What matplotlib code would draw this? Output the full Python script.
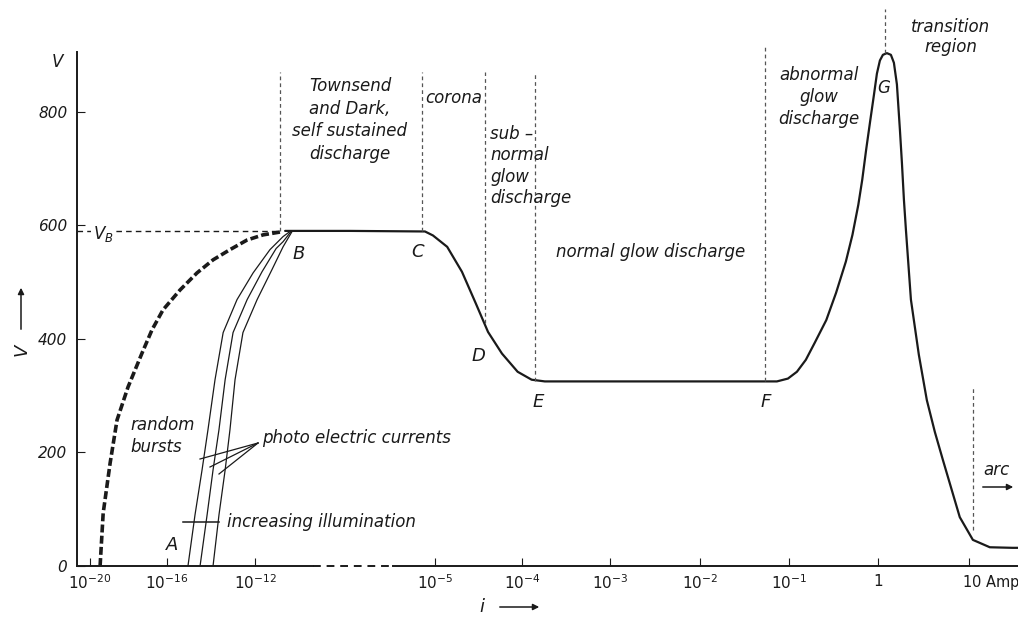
import numpy as np
import matplotlib
matplotlib.use("Agg")
import matplotlib.pyplot as plt
import matplotlib.transforms as mtransforms
import matplotlib.patches as mpatches

plt.rcParams['font.family'] = ['DejaVu Sans']
plt.rcParams['mathtext.default'] = 'it'

# ---------------- data (log10 current in A, voltage in V) ----------------
# main characteristic B-C-D-E-F-G-arc
main_logI = [-10.83, -8.3, -5.39, -5.08, -4.86, -4.69, -4.53, -4.39, -4.23, -4.05,
             -3.89, -3.74, -1.135, -1.011, -0.91, -0.81, -0.71, -0.58, -0.47, -0.36,
             -0.286, -0.22, -0.176, -0.132, -0.088, -0.044, -0.011, 0.022, 0.055, 0.099,
             0.143, 0.176, 0.209, 0.242, 0.264, 0.286, 0.308, 0.363, 0.45, 0.538,
             0.626, 0.714, 0.90, 1.044, 1.23, 1.48, 1.6]
main_V = [590, 590, 589, 582, 562, 518, 462, 412, 374, 342,
          328, 325, 325, 330, 342, 363, 393, 433, 481, 536,
          583, 636, 680, 733, 782, 830, 867, 890, 900, 903,
          900, 886, 848, 768, 710, 645, 592, 469, 372, 292,
          236, 187, 86, 46, 33, 32, 32]

# random bursts (dashed)
burst_logI = [-19.48, -19.32, -18.96, -18.6, -18.03, -17.3, -16.78, -16.21, -15.41,
              -14.64, -13.91, -13.14, -12.36, -11.69, -11.03]
burst_V = [0, 93, 181, 257, 315, 375, 416, 451, 486, 516, 539, 557, 574, 583, 588]

# photo electric currents (three illumination levels)
photo1_logI = [-15.05, -14.73, -14.41, -14.14, -13.82, -13.45, -12.82, -12.09, -11.42, -10.91, -10.64]
photo1_V = [0, 90, 169, 240, 328, 411, 469, 516, 557, 580, 589]
photo2_logI = [-14.5, -14.18, -13.91, -13.64, -13.36, -13.0, -12.36, -11.73, -11.18, -10.91, -10.6]
photo2_V = [0, 90, 169, 240, 328, 411, 469, 518, 559, 571, 589]
photo3_logI = [-13.91, -13.64, -13.36, -13.14, -12.91, -12.55, -11.92, -11.34, -10.91, -10.56]
photo3_V = [0, 90, 169, 240, 328, 411, 469, 522, 562, 589]

# region boundaries (log10 current, V from, V to)
bound_logI = [-11.03, -5.5, -4.43, -3.85, -1.27, 0.08, 1.05]
bound_Vlo = [590, 590, 428, 325, 325, 903, 63]
bound_Vhi = [870, 870, 870, 870, 915, 980, 314]
V_B = 590

xtick_logI = [-20, -16, -12, -5, -4, -3, -2, -1, 0, 1]
xtick_labels = [r'$10^{-20}$', r'$10^{-16}$', r'$10^{-12}$', r'$10^{-5}$', r'$10^{-4}$',
                r'$10^{-3}$', r'$10^{-2}$', r'$10^{-1}$', r'$1$', r'$10$ Amp']
yticks = [0, 200, 400, 600, 800]

# ---------------- non-uniform current scale ----------------
KNOT_LOG = np.array([-22, -20, -16, -12, -5, -4, -3, -2, -1, 0, 1, 2], float)
KNOT_POS = np.array([51.5, 90, 167, 255, 435, 522, 610, 700, 789, 878, 969, 1060], float)

def fwd(I):
    I = np.asarray(I, float)
    return np.interp(np.log10(np.clip(I, 1e-300, None)), KNOT_LOG, KNOT_POS)

def inv(u):
    return 10 ** np.interp(np.asarray(u, float), KNOT_POS, KNOT_LOG)

W, H = 1018, 624
fig = plt.figure(figsize=(W / 100, H / 100), dpi=100)
ax = fig.add_axes([77 / W, (H - 566) / H, (W - 77) / W, (566 - 52) / H])
ax.set_xscale('function', functions=(fwd, inv))
ax.set_xlim(10 ** -20.68, 10 ** 1.54)
ax.set_ylim(0, 905)

ink = '#1a1a1a'
grey = '#555555'

def I(a):
    return 10 ** np.asarray(a, float)

ax.plot(I(main_logI), main_V, color=ink, lw=1.6, solid_joinstyle='round',
        solid_capstyle='round', clip_on=False)
ax.plot(I(burst_logI), burst_V, color=ink, lw=2.6, dashes=(2.2, 0.9))
for lx, vy in [(photo1_logI, photo1_V), (photo2_logI, photo2_V), (photo3_logI, photo3_V)]:
    ax.plot(I(lx), vy, color=ink, lw=0.9)

for bx, lo, hi in zip(bound_logI, bound_Vlo, bound_Vhi):
    ax.plot([I(bx), I(bx)], [lo, hi], color=grey, lw=0.9, dashes=(3, 2.5), clip_on=False)
ax.plot([10 ** -20.68, I(-11.03)], [V_B, V_B], color=ink, lw=1.0, dashes=(4, 3))

# axes styling
for s in ['top', 'right', 'bottom']:
    ax.spines[s].set_visible(False)
ax.spines['left'].set_linewidth(1.4)
ax.spines['left'].set_color(ink)
xt = ax.get_xaxis_transform()
ax.plot([10 ** -20.68, I(-9.74)], [0, 0], color=ink, lw=1.4, transform=xt, clip_on=False)
ax.plot([I(-9.74), I(-6.63)], [0, 0], color=ink, lw=1.4, dashes=(4, 3), transform=xt, clip_on=False)
ax.plot([I(-6.63), 10 ** 1.54], [0, 0], color=ink, lw=1.4, transform=xt, clip_on=False)

ax.set_xticks(I(xtick_logI))
ax.set_xticklabels(xtick_labels)
ax.minorticks_off()
ax.set_yticks(yticks)
ax.set_yticklabels([str(v) for v in yticks])
ax.tick_params(axis='both', direction='in', length=6, width=0.8, colors=ink, labelsize=11)
ax.tick_params(axis='x', pad=5)
ax.tick_params(axis='y', pad=7)
for lab in ax.get_yticklabels() + ax.get_xticklabels():
    lab.set_fontstyle('italic')
xl = ax.get_xticklabels()
xl[-1].set_horizontalalignment('left')
xl[-1].set_fontstyle('normal')
xl[-1].set_fontsize(10.5)
xl[-1].set_transform(xl[-1].get_transform() + mtransforms.ScaledTranslation(-5 / 72, 0, fig.dpi_scale_trans))

# ---------------- annotations (figure pixel positions) ----------------
def T(x, y, s, size=12, ha='center', va='center', **kw):
    fig.text(x / W, 1 - y / H, s, fontsize=size, ha=ha, va=va, style='italic',
             color=ink, **kw)

def L(xs, ys, **kw):
    fig.add_artist(plt.Line2D(np.array(xs) / W, 1 - np.array(ys) / H,
                              color=ink, **kw))

T(57, 62, 'V', size=12)
T(103, 234, r'$V_B$', size=12, bbox=dict(facecolor='white', edgecolor='none', pad=1))
T(350, 120, 'Townsend\nand Dark,\nself sustained\ndischarge', size=12, linespacing=1.35)
T(454, 98, 'corona', size=12)
T(490, 166, 'sub –\nnormal\nglow\ndischarge', size=12, ha='left', linespacing=1.25)
T(651, 252, 'normal glow discharge', size=12)
T(819, 97, 'abnormal\nglow\ndischarge', size=12, linespacing=1.25)
T(951, 37, 'transition\nregion', size=12, linespacing=1.2)
T(884, 88, 'G', size=12)
T(299, 254, 'B', size=13)
T(418, 252, 'C', size=13)
T(478, 356, 'D', size=13)
T(538, 402, 'E', size=13)
T(766, 402, 'F', size=13)
T(172, 545, 'A', size=13)
T(130, 436, 'random\nbursts', size=12, ha='left', linespacing=1.3)
T(262, 438, 'photo electric currents', size=12, ha='left')
T(227, 522, 'increasing illumination', size=12, ha='left')
T(996, 470, 'arc', size=12)
T(22, 350, 'V', size=13, rotation=90)
T(482, 607, 'i', size=13)

L([258, 200], [443, 459], lw=0.9)
L([258, 210], [443, 467], lw=0.9)
L([258, 219], [443, 474], lw=0.9)
L([183, 219], [522, 522], lw=1.1)

def arrow(x0, y0, x1, y1):
    fig.add_artist(mpatches.FancyArrowPatch(
        (x0 / W, 1 - y0 / H), (x1 / W, 1 - y1 / H), transform=fig.transFigure,
        arrowstyle='-|>', mutation_scale=9, color=ink, lw=1.1))

arrow(980, 487, 1016, 487)
arrow(21, 332, 21, 285)
arrow(497, 607, 542, 607)

fig.savefig('out.png', dpi=100, facecolor='white')
